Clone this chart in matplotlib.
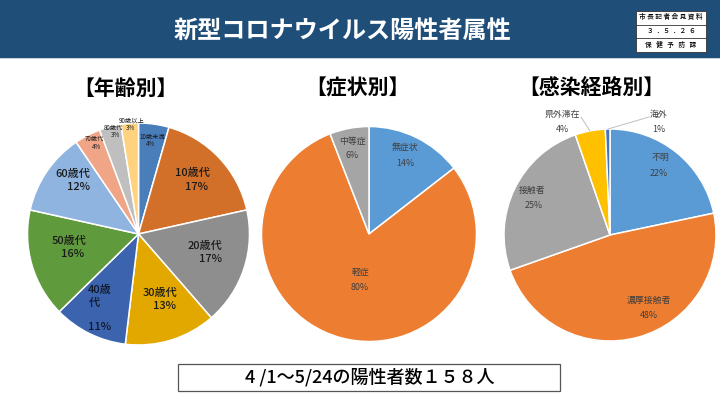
"""Recreate the slide of positive case attributes with three pie charts."""

import matplotlib

matplotlib.use("Agg")
import matplotlib.pyplot as plt
from matplotlib.patches import Rectangle

plt.rcParams["font.family"] = ["Noto Sans CJK JP", "DejaVu Sans"]

WIDTH, HEIGHT = 720, 405

age_labels = ["10歳未満", "10歳代", "20歳代", "30歳代", "40歳代", "50歳代", "60歳代", "70歳代", "80歳代", "90歳以上"]
age_counts = [7, 27, 27, 21, 17, 25, 19, 6, 5, 4]
age_percents = ["4%", "17%", "17%", "13%", "11%", "16%", "12%", "4%", "3%", "3%"]
age_colors = ["#4A7EBB", "#D2702A", "#8E8E8E", "#E2A800", "#3C64AE", "#5F9A3C", "#8FB4E0", "#F0A587", "#BFBFBF", "#FFD27F"]

symptom_labels = ["無症状", "軽症", "中等症"]
symptom_shares = [14.5, 79.6, 5.9]
symptom_percents = ["14%", "80%", "6%"]
symptom_colors = ["#5B9BD5", "#ED7D31", "#A5A5A5"]

route_labels = ["不明", "濃厚接触者", "接触者", "県外滞在", "海外"]
route_shares = [21.7, 47.9, 25.1, 4.6, 0.7]
route_percents = ["22%", "48%", "25%", "4%", "1%"]
route_colors = ["#5B9BD5", "#ED7D31", "#A5A5A5", "#FFC000", "#4472C4"]


def flip(y):
    """Convert a y position measured from the top into axes units."""
    return HEIGHT - y


def draw_pie(ax, values, colors, center, radius):
    ax.pie(
        values,
        colors=colors,
        center=(center[0], flip(center[1])),
        radius=radius,
        startangle=90,
        counterclock=False,
        frame=True,
        wedgeprops={"edgecolor": "white", "linewidth": 1.1},
    )


def draw_labels(ax, texts, positions, fontsize, color, fontweight="normal"):
    for text, (x, y) in zip(texts, positions):
        ax.text(x, flip(y), text, ha="center", va="center", fontsize=fontsize,
                color=color, fontweight=fontweight)


fig = plt.figure(figsize=(WIDTH / 100, HEIGHT / 100), dpi=100)
ax = fig.add_axes([0, 0, 1, 1])

# header band and the small document stamp
ax.add_patch(Rectangle((0, flip(58)), WIDTH, 58, facecolor="#1F4E79", edgecolor="none"))
ax.add_patch(Rectangle((0, flip(59)), WIDTH, 1, facecolor="#C9D3DE", edgecolor="none"))
ax.text(342, flip(31), "新型コロナウイルス陽性者属性", ha="center", va="center",
        fontsize=17.4, color="white", fontweight="bold")
ax.add_patch(Rectangle((636, flip(52)), 70, 41, facecolor="white", edgecolor="#333333", linewidth=0.6))
ax.plot([636, 706], [flip(24.5), flip(24.5)], color="#333333", linewidth=0.6)
ax.plot([636, 706], [flip(38), flip(38)], color="#333333", linewidth=0.6)
ax.text(671, flip(17.5), "市 長 記 者 会 見 資 料", ha="center", va="center",
        fontsize=4.8, color="black", fontweight="medium")
ax.text(671, flip(31), "３  ．５  ．２  ６", ha="center", va="center",
        fontsize=4.8, color="black", fontweight="medium")
ax.text(671, flip(45), "保   健   予   防   課", ha="center", va="center",
        fontsize=4.8, color="black", fontweight="medium")

# section headings
for heading, x in [("【年齢別】", 125), ("【症状別】", 357), ("【感染経路別】", 591)]:
    ax.text(x, flip(88), heading, ha="center", va="center", fontsize=15,
            color="black", fontweight="bold")

draw_pie(ax, age_counts, age_colors, (138.5, 234), 111)
draw_pie(ax, symptom_shares, symptom_colors, (369, 234), 107.5)
draw_pie(ax, route_shares, route_colors, (610, 235), 106)

# age labels come in two sizes depending on the slice
big = [1, 2, 3, 5, 6]
big_label_pos = [(192, 173), (205, 246), (160, 293), (69, 241), (73, 174)]
big_percent_pos = [(197, 187), (210, 259), (165, 306), (73, 254), (79, 187)]
draw_labels(ax, [age_labels[i] for i in big], big_label_pos, 8, "#1A1A1A", "medium")
draw_labels(ax, [age_percents[i] for i in big], big_percent_pos, 8, "#1A1A1A", "medium")

# the 40s label wraps inside its slice
draw_labels(ax, ["40歳", "代", age_percents[4]], [(100, 290), (94, 303), (100, 327)],
            8, "#101828", "medium")

small = [0, 7, 8, 9]
small_label_pos = [(152, 137), (94, 139), (113, 128), (132, 121)]
small_percent_pos = [(150, 143.5), (96, 147), (115, 135), (130, 128)]
draw_labels(ax, [age_labels[i] for i in small], small_label_pos, 4.5, "#1A1A1A")
draw_labels(ax, [age_percents[i] for i in small], small_percent_pos, 4.5, "#1A1A1A")

draw_labels(ax, symptom_labels, [(405, 148), (360, 272), (352, 141)], 6.4, "#404040")
draw_labels(ax, symptom_percents, [(405, 164), (360, 288), (352, 156)], 6.4, "#404040")

draw_labels(ax, route_labels, [(660, 157), (649, 300), (532, 190), (562, 114), (659, 114)], 6.4, "#404040")
draw_labels(ax, route_percents, [(659, 173), (649, 316), (534, 206), (562, 129), (659, 130)], 6.4, "#404040")

# leader lines for the two smallest route slices
ax.plot([581, 590], [flip(117), flip(131)], color="#BFBFBF", linewidth=0.7)
ax.plot([649, 608], [flip(117), flip(129)], color="#BFBFBF", linewidth=0.7)

# footer box
ax.add_patch(Rectangle((178, flip(391)), 382, 27, facecolor="white", edgecolor="#555555", linewidth=0.9))
ax.text(370, flip(377), "4 /1～5/24の陽性者数１５８人", ha="center", va="center",
        fontsize=13, color="black", fontweight="medium")

ax.set_xlim(0, WIDTH)
ax.set_ylim(0, HEIGHT)
ax.set_aspect("auto")
ax.axis("off")

fig.savefig("out.png", dpi=100)
plt.close(fig)
